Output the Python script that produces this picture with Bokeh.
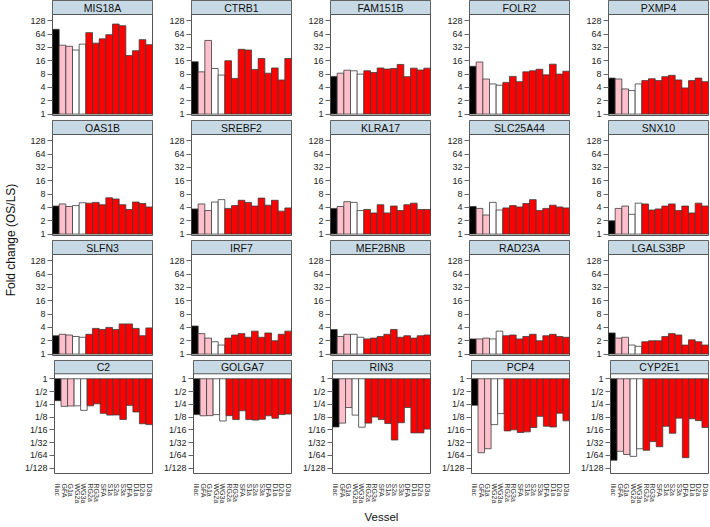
import numpy as np
from math import pi
from bokeh.plotting import figure
from bokeh.layouts import row, column
from bokeh.models import Range1d, FixedTicker, BoxAnnotation, Label
from bokeh.embed import file_html
from bokeh.resources import INLINE

# ---------------- data ----------------
vessels = ["Iliac", "GFA", "G1a", "WG2a", "WG3a", "RG2a", "RG3a", "SFA",
           "S1a", "S2a", "S3a", "DFA", "D1a", "D2a", "D3a"]
vessel_colors = ["#000000", "#FFC0CB", "#FFC0CB", "#FFFFFF", "#FFFFFF"] + ["#FF0000"] * 10

# fold change (OS/LS), up-regulated genes
mis18a = [82, 36, 34, 28, 38, 69, 40, 50, 62, 108, 99, 21, 27, 48, 37]
ctrb1 = [15.2, 9.0, 46, 10.7, 7.6, 16, 6.4, 29, 28, 10.2, 18, 8.4, 11, 5.9, 18]
fam151b = [7.1, 8.4, 9.8, 9.5, 8.0, 9.5, 8.7, 11.0, 10.4, 10.7, 13.2, 7.0, 10.9, 9.9, 10.9]
folr2 = [12, 15, 6.2, 4.8, 4.5, 5.2, 7.1, 5.4, 9.0, 9.5, 10.3, 7.7, 13.4, 8.0, 9.3]
pxmp4 = [6.5, 6.2, 3.7, 3.4, 4.8, 5.7, 6.3, 5.7, 7.0, 7.5, 5.9, 3.9, 5.7, 6.5, 5.4]

oas1b = [4.3, 4.8, 4.2, 4.4, 5.1, 5.0, 5.2, 4.6, 6.6, 6.2, 4.6, 3.6, 5.3, 4.9, 4.1]
srebf2 = [3.7, 4.8, 3.4, 5.3, 6.0, 3.8, 4.4, 5.8, 5.2, 4.3, 6.5, 4.5, 5.8, 3.3, 3.9]
klra17 = [3.8, 4.2, 5.4, 5.2, 3.4, 3.6, 3.0, 4.6, 3.0, 4.3, 3.4, 4.6, 5.0, 3.6, 3.6]
slc25a44 = [4.2, 3.8, 2.7, 5.2, 3.5, 3.9, 4.4, 4.1, 4.9, 6.0, 3.4, 3.8, 4.5, 4.1, 3.9]
snx10 = [2.0, 3.8, 4.3, 2.8, 5.0, 4.8, 3.5, 3.7, 4.3, 4.8, 3.4, 4.3, 3.0, 5.0, 4.3]

slfn3 = [2.6, 2.8, 2.7, 2.5, 2.4, 2.8, 3.8, 3.6, 4.0, 3.6, 4.8, 4.8, 3.8, 2.6, 3.9]
irf7 = [4.3, 2.9, 2.3, 1.9, 1.6, 2.3, 2.7, 2.9, 2.4, 3.3, 2.4, 3.0, 2.0, 2.8, 3.3]
mef2bnb = [3.6, 2.5, 2.8, 2.8, 2.4, 2.2, 2.3, 2.5, 2.8, 3.6, 2.4, 2.6, 2.3, 2.6, 2.7]
rad23a = [2.2, 2.2, 2.3, 2.2, 3.3, 2.6, 2.7, 2.2, 2.5, 2.8, 2.0, 2.6, 2.8, 2.5, 2.4]
lgals3bp = [3.0, 2.3, 2.4, 1.6, 1.5, 1.9, 2.0, 2.0, 2.5, 2.9, 2.7, 1.6, 2.1, 1.9, 1.6]

# down-regulated genes
c2 = [0.305, 0.224, 0.228, 0.23, 0.18, 0.23, 0.257, 0.153, 0.139, 0.14, 0.11, 0.236, 0.165, 0.087, 0.083]
golga7 = [0.143, 0.134, 0.135, 0.143, 0.101, 0.135, 0.109, 0.176, 0.109, 0.106, 0.111, 0.134, 0.117, 0.143, 0.147]
rin3 = [0.073, 0.09, 0.21, 0.139, 0.072, 0.09, 0.125, 0.109, 0.088, 0.036, 0.092, 0.21, 0.053, 0.053, 0.065]
pcp4 = [0.237, 0.018, 0.0224, 0.083, 0.151, 0.059, 0.0625, 0.054, 0.056, 0.071, 0.13, 0.076, 0.073, 0.154, 0.102]
cyp2e1 = [0.012, 0.0195, 0.0164, 0.0148, 0.0224, 0.0206, 0.033, 0.025, 0.076, 0.052, 0.118, 0.0138, 0.114, 0.103, 0.071]

panel_rows = [
    [("MIS18A", mis18a), ("CTRB1", ctrb1), ("FAM151B", fam151b), ("FOLR2", folr2), ("PXMP4", pxmp4)],
    [("OAS1B", oas1b), ("SREBF2", srebf2), ("KLRA17", klra17), ("SLC25A44", slc25a44), ("SNX10", snx10)],
    [("SLFN3", slfn3), ("IRF7", irf7), ("MEF2BNB", mef2bnb), ("RAD23A", rad23a), ("LGALS3BP", lgals3bp)],
    [("C2", c2), ("GOLGA7", golga7), ("RIN3", rin3), ("PCP4", pcp4), ("CYP2E1", cyp2e1)],
]

up_ticks = [1, 2, 4, 8, 16, 32, 64, 128]
up_labels = ["1", "2", "4", "8", "16", "32", "64", "128"]
down_ticks = [1, 0.5, 0.25, 0.125, 0.0625, 0.03125, 0.015625, 0.0078125]
down_labels = ["1", "1/2", "1/4", "1/8", "1/16", "1/32", "1/64", "1/128"]

y_title = "Fold change (OS/LS)"
x_title = "Vessel"

# ---------------- layout / style ----------------
FONT = "Liberation Sans"
STRIP_PX = 14
PLOT_PX_UP = 101
PLOT_PX_DN = 105
GAP = 5
LEFT = 31
FRAME_W = 100
RIGHT = 8
RIGHT_LAST = 1
BOTTOM_DN = 47
YT_W = 21
UP_LOG = (-0.105, 7.47)
DN_LOG = (-7.42, 0.39)
STRIP_FILL = "#c6d9e4"
BORDER = "#555555"

xs = [int(i) for i in np.arange(1, len(vessels) + 1)]


def make_panel(gene, vals, down, col, show_x, xlabel):
    plot_px = PLOT_PX_DN if down else PLOT_PX_UP
    lo, hi = DN_LOG if down else UP_LOG
    top_log = hi + STRIP_PX * (hi - lo) / plot_px
    right = RIGHT_LAST if col == 4 else RIGHT
    bottom = BOTTOM_DN if down else GAP
    p = figure(width=LEFT + FRAME_W + right, height=STRIP_PX + plot_px + bottom,
               x_range=Range1d(0.5, len(vessels) + 0.5),
               y_range=Range1d(2 ** lo, 2 ** top_log), y_axis_type="log",
               output_backend="svg", toolbar_location=None, title=None,
               min_border_left=LEFT, min_border_right=right,
               min_border_top=0, min_border_bottom=bottom)
    p.grid.visible = False
    p.outline_line_color = BORDER
    p.outline_line_width = 1
    p.background_fill_color = "white"
    p.border_fill_color = "white"

    if down:
        p.vbar(x=xs, width=1, top=1, bottom=vals, fill_color=vessel_colors,
               line_color="#3c3c3c", line_width=0.8)
    else:
        p.vbar(x=xs, width=1, bottom=1, top=vals, fill_color=vessel_colors,
               line_color="#3c3c3c", line_width=0.8)

    strip = BoxAnnotation(bottom=2 ** hi, fill_color=STRIP_FILL, fill_alpha=1,
                          line_color=BORDER, line_alpha=1, line_width=1)
    p.add_layout(strip)
    p.add_layout(Label(x=(len(vessels) + 1) / 2, y=2 ** ((hi + top_log) / 2), text=gene,
                       text_align="center", text_baseline="middle",
                       text_font=FONT, text_font_size="10.5px", text_color="#111111"))

    ticks = down_ticks if down else up_ticks
    labels = down_labels if down else up_labels
    ya = p.yaxis[0]
    ya.ticker = FixedTicker(ticks=ticks)
    ya.major_label_overrides = dict(zip(ticks, labels))
    ya.axis_line_color = None
    ya.major_tick_out = 5
    ya.major_tick_in = 0
    ya.major_tick_line_color = "#666666"
    ya.minor_tick_line_color = None
    ya.major_label_text_font = FONT
    ya.major_label_text_font_size = "9px"
    ya.major_label_text_color = "#222222"
    ya.major_label_standoff = 2

    xa = p.xaxis[0]
    if show_x:
        xa.ticker = FixedTicker(ticks=xs)
        xa.major_label_overrides = {i: v for i, v in zip(xs, vessels)}
        xa.major_label_orientation = "vertical"
        xa.major_label_text_font = FONT
        xa.major_label_text_font_size = "7px"
        xa.major_label_text_color = "#333333"
        xa.major_label_standoff = 4
        xa.major_tick_line_color = None
        xa.minor_tick_line_color = None
        xa.axis_line_color = None
        if xlabel:
            xa.axis_label = x_title
            xa.axis_label_text_font = FONT
            xa.axis_label_text_font_size = "11.5px"
            xa.axis_label_text_font_style = "normal"
            xa.axis_label_text_color = "#111111"
            xa.axis_label_standoff = 5
    else:
        xa.visible = False
    return p


rows = []
for r, panels in enumerate(panel_rows):
    down = (r == 3)
    figs = [make_panel(g, v, down, c, down, down and c == 2) for c, (g, v) in enumerate(panels)]
    rows.append(row(*figs))

total_h = 3 * (STRIP_PX + PLOT_PX_UP + GAP) + STRIP_PX + PLOT_PX_DN + BOTTOM_DN
panels_bottom = 3 * (STRIP_PX + PLOT_PX_UP + GAP) + STRIP_PX + PLOT_PX_DN

yt = figure(width=YT_W, height=total_h, x_range=Range1d(0, YT_W), y_range=Range1d(0, total_h),
            output_backend="svg", toolbar_location=None, title=None, min_border=0)
yt.axis.visible = False
yt.grid.visible = False
yt.outline_line_color = None
yt.add_layout(Label(x=10, y=total_h - panels_bottom / 2, text=y_title, angle=pi / 2,
                    text_align="center", text_baseline="middle", text_font=FONT,
                    text_font_size="12px", text_color="#111111"))

layout = row(yt, column(*rows))

open("out.html", "w").write(file_html(layout, INLINE))
